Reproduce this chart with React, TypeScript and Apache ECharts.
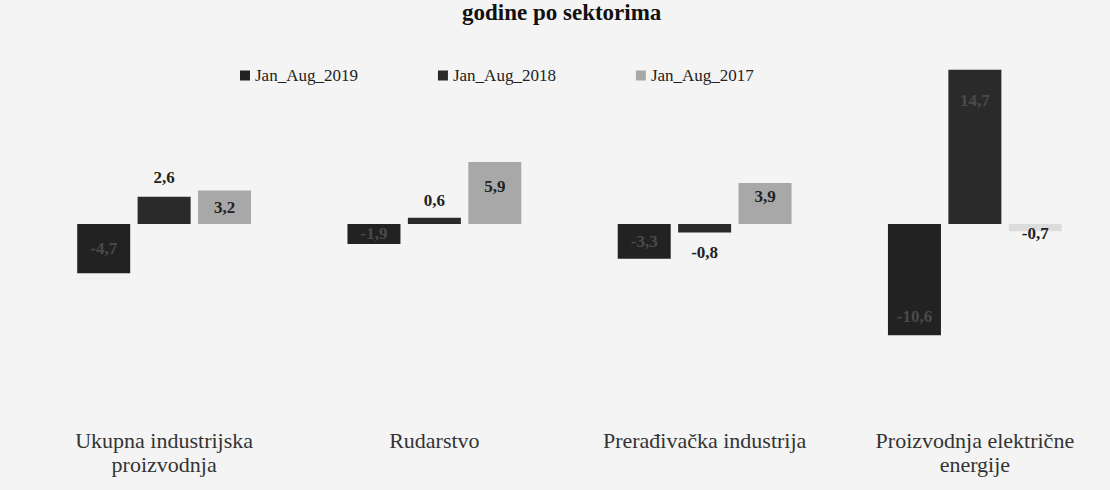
import React, { useEffect, useRef } from "react";
import * as echarts from "echarts";

const categories = [
  "Ukupna industrijska\nproizvodnja",
  "Rudarstvo",
  "Prerađivačka industrija",
  "Proizvodnja električne\nenergije",
];
const seriesNames = ["Jan_Aug_2019", "Jan_Aug_2018", "Jan_Aug_2017"];
const values2019 = [-4.7, -1.9, -3.3, -10.6];
const values2018 = [2.6, 0.6, -0.8, 14.7];
const values2017 = [3.2, 5.9, 3.9, -0.7];
const titleText = "godine po sektorima";

const fmt = (v: number) => String(v).replace(".", ",");
const FONT = "Liberation Serif";

export default function App() {
  const ref = useRef<HTMLDivElement>(null);
  useEffect(() => {
    if (!ref.current) return;
    const chart = echarts.init(ref.current, undefined, { renderer: "svg" });
    const lblBase = {
      show: true,
      fontFamily: FONT,
      fontWeight: "bold" as const,
      fontSize: 17,
      color: "#222",
      formatter: (p: any) => fmt(p.value),
    };
    const pos2019 = ["inside", "inside", "inside", "insideBottom"];
    const dist2019 = [5, 5, 5, 10];
    const pos2018 = ["outside", "outside", "outside", "insideTop"];
    const dist2018 = [11, 9, 12, 22];
    const pos2017 = ["inside", "insideTop", "insideTop", "inside"];
    const dist2017 = [5, 16, 5, 5];

    chart.setOption({
      animation: false,
      backgroundColor: "#f4f4f4",
      graphic: [
        {
          type: "text",
          left: 462,
          top: 1,
          style: {
            text: titleText,
            fontFamily: FONT,
            fontWeight: "bold",
            fontSize: 23,
            fill: "#111",
          },
        },
      ],
      legend: {
        left: 235,
        top: 62,
        itemWidth: 10,
        itemHeight: 10,
        itemGap: 80,
        icon: "rect",
        textStyle: { fontFamily: FONT, fontSize: 17, color: "#222" },
        data: seriesNames,
      },
      grid: { left: 29, width: 1088, top: 56, height: 367.5, containLabel: false },
      xAxis: {
        type: "category",
        data: categories,
        axisLine: { show: false, onZero: false },
        axisTick: { show: false },
        axisLabel: {
          margin: 5,
          fontFamily: FONT,
          fontSize: 22,
          lineHeight: 24,
          color: "#333",
        },
      },
      yAxis: {
        type: "value",
        min: -19,
        max: 16,
        show: false,
        splitLine: { show: false },
      },
      series: [
        {
          name: seriesNames[0],
          type: "bar",
          barWidth: 53,
          barGap: "14%",
          itemStyle: { color: "#222" },
          data: values2019.map((v, i) => ({
            value: v,
            label: { ...lblBase, position: pos2019[i], distance: dist2019[i], color: "#4a4a4a" },
          })),
        },
        {
          name: seriesNames[1],
          type: "bar",
          barWidth: 53,
          barGap: "14%",
          itemStyle: { color: "#2a2a2a" },
          data: values2018.map((v, i) => ({
            value: v,
            label: {
              ...lblBase,
              position: pos2018[i],
              distance: dist2018[i],
              color: i === 3 ? "#4a4a4a" : "#222",
            },
          })),
        },
        {
          name: seriesNames[2],
          type: "bar",
          barWidth: 53,
          barGap: "14%",
          itemStyle: { color: "#a8a8a8" },
          data: values2017.map((v, i) => ({
            value: v,
            itemStyle: i === 3 ? { color: "#dcdcdc" } : undefined,
            label: {
              ...lblBase,
              position: pos2017[i],
              distance: dist2017[i],
              offset: i === 3 ? [0, 6] : [0, 0],
            },
          })),
        },
      ],
    });
    return () => chart.dispose();
  }, []);
  return (
    <div
      ref={ref}
      style={{ position: "absolute", left: 0, top: 0, width: 1110, height: 490 }}
    />
  );
}
